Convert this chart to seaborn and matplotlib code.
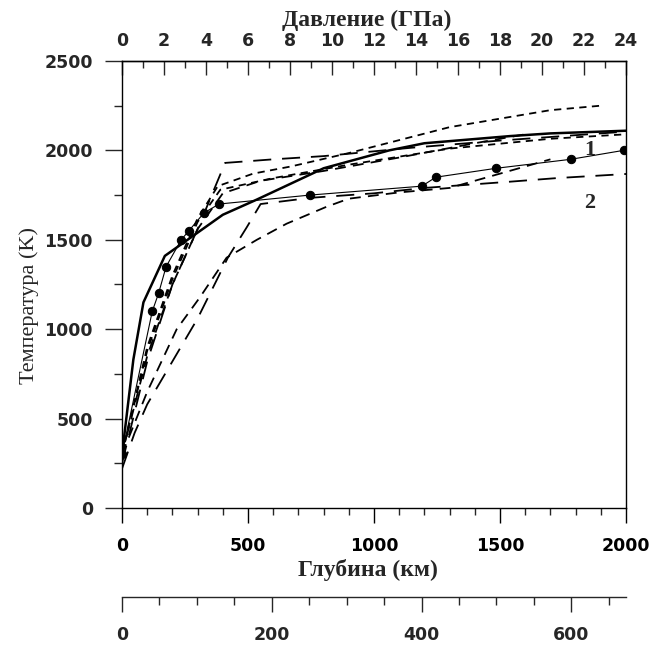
import numpy as np
import pandas as pd
import matplotlib
matplotlib.use("Agg")
import matplotlib.pyplot as plt
import seaborn as sns
from matplotlib.ticker import MultipleLocator, FixedLocator

# curve 1 (thin line with dots)
depth_1 = [0, 120, 145, 175, 235, 265, 325, 385, 745, 1190, 1245, 1485, 1780, 1990]
temp_1 = [300, 1100, 1200, 1350, 1500, 1550, 1650, 1700, 1750, 1800, 1850, 1900, 1950, 2000]

# thick solid curve
depth_thick = [0, 45, 85, 170, 270, 400, 535, 800, 1060, 1200, 1540, 1700, 2000]
temp_thick = [300, 830, 1150, 1410, 1510, 1640, 1725, 1900, 2000, 2040, 2080, 2095, 2110]

# curve 2 (long dash)
depth_2 = [0, 50, 100, 200, 300, 420, 495, 550, 750, 1000, 1200, 1540, 1725, 2000]
temp_2 = [220, 420, 580, 820, 1060, 1400, 1570, 1700, 1735, 1760, 1790, 1825, 1845, 1868]

# other long dash curve
depth_d = [0, 100, 200, 300, 409, 600, 800, 1150, 1500, 2000]
temp_d = [250, 820, 1250, 1560, 1930, 1950, 1968, 2015, 2055, 2105]

# short dash curves
depth_e = [0, 100, 200, 300, 380, 520, 670, 900, 1300, 1700, 1900]
temp_e = [300, 900, 1300, 1620, 1800, 1870, 1910, 1985, 2130, 2225, 2250]

depth_k = [0, 100, 200, 300, 390, 600, 900, 1300, 1700, 2000]
temp_k = [300, 880, 1280, 1600, 1780, 1845, 1920, 2010, 2065, 2090]

# medium dash curves
depth_f = [0, 100, 217, 310, 415, 535, 653, 812, 900, 1100, 1300, 1500, 1700]
temp_f = [300, 650, 1000, 1180, 1400, 1500, 1590, 1685, 1730, 1765, 1790, 1870, 1950]

depth_j = [0, 100, 200, 300, 400, 550, 800, 1100, 1400, 1620]
temp_j = [300, 850, 1250, 1560, 1760, 1830, 1885, 1960, 2040, 2095]

# scale ticks
pressure_ticks = list(range(0, 25, 2))
lower_ticks = [0, 200, 400, 600]

sns.set_theme(style="white")
plt.rcParams["font.family"] = ["DejaVu Sans"]
plt.rcParams["font.weight"] = "bold"
plt.rcParams["axes.linewidth"] = 1.0

fig = plt.figure(figsize=(6.49, 6.46), dpi=100)
ax = fig.add_axes([0.188, 0.2136, 0.7766, 0.692])

# dashed curves
styles = [
    (depth_2, temp_2, (0, (10, 6))),
    (depth_d, temp_d, (0, (10, 6))),
    (depth_e, temp_e, (0, (4, 3))),
    (depth_k, temp_k, (0, (4, 3))),
    (depth_f, temp_f, (0, (6, 4))),
    (depth_j, temp_j, (0, (6, 4))),
]
for dx, ty, ls in styles:
    sns.lineplot(x=dx, y=ty, ax=ax, color="black", lw=1.3, linestyle=ls, sort=False)

sns.lineplot(x=depth_thick, y=temp_thick, ax=ax, color="black", lw=1.8, sort=False)
sns.lineplot(x=depth_1, y=temp_1, ax=ax, color="black", lw=0.8, marker="o",
             markersize=6, markeredgecolor="black", sort=False)

ax.text(1857, 2002, "1", fontsize=16, family="Liberation Serif", fontweight="bold", ha="center", va="center")
ax.text(1857, 1706, "2", fontsize=16, family="Liberation Serif", fontweight="bold", ha="center", va="center")

ax.set_xlim(0, 2000)
ax.set_ylim(0, 2500)
ax.xaxis.set_major_locator(MultipleLocator(500))
ax.xaxis.set_minor_locator(MultipleLocator(100))
ax.yaxis.set_major_locator(MultipleLocator(500))
ax.yaxis.set_minor_locator(MultipleLocator(250))
ax.tick_params(axis="x", which="major", direction="out", length=11, width=1, pad=10, labelsize=12.5,
               bottom=True, top=False, colors="black")
ax.tick_params(axis="x", which="minor", direction="out", length=5, width=1, bottom=True, top=False)
ax.tick_params(axis="y", which="major", direction="out", length=12, width=1, pad=9, labelsize=12.5,
               left=True, right=False)
ax.tick_params(axis="y", which="minor", direction="out", length=6, width=1, left=True, right=False)
for s in ax.spines.values():
    s.set_color("black")

ax.set_xlabel("Глубина (км)", family="Liberation Serif", fontweight="bold", fontsize=17)
ax.xaxis.set_label_coords(0.488, -0.115)
ax.set_ylabel("Температура (K)", family="Liberation Serif", fontweight="normal", fontsize=16)
ax.yaxis.set_label_coords(-0.165, 0.454)

# pressure axis on top
top = ax.secondary_xaxis("top", functions=(lambda d: d * 0.012, lambda p: p / 0.012))
top.xaxis.set_major_locator(FixedLocator(pressure_ticks))
top.xaxis.set_minor_locator(FixedLocator(list(range(1, 24, 2))))
top.tick_params(which="major", direction="in", length=10, width=1, pad=8, labelsize=12.5)
top.tick_params(which="minor", direction="in", length=5, width=1)
top.set_xlabel("Давление (ГПа)", family="Liberation Serif", fontweight="bold", fontsize=17)
top.xaxis.set_label_coords(0.486, 1.078, transform=ax.transAxes)

# second depth scale below
low = ax.secondary_xaxis(-0.199, functions=(lambda d: d * 673 / 2000, lambda v: v * 2000 / 673))
low.xaxis.set_major_locator(FixedLocator(lower_ticks))
low.xaxis.set_minor_locator(FixedLocator([50, 100, 150, 250, 300, 350, 450, 500, 550, 650]))
low.tick_params(which="major", direction="out", length=11, width=1, pad=10, labelsize=12.5)
low.tick_params(which="minor", direction="out", length=6, width=1)

plt.savefig("out.png", dpi=100)
